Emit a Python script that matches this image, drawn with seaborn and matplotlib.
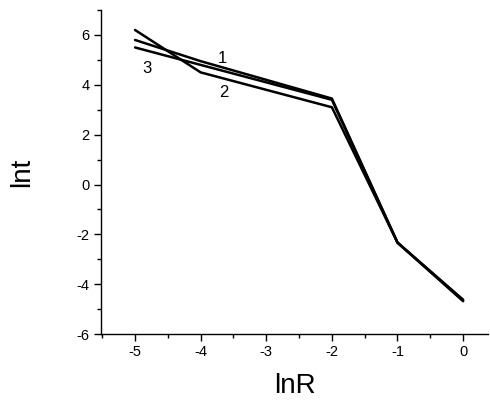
import numpy as np
import pandas as pd
import matplotlib
matplotlib.use("Agg")
import matplotlib.pyplot as plt
import seaborn as sns
from matplotlib.ticker import MultipleLocator

lnR = [-5, -4, -3, -2, -1, 0]
curve1 = [5.8, 4.95, 4.2, 3.45, -2.33, -4.65]
curve2 = [6.2, 4.5, 3.8, 3.1, -2.33, -4.68]
curve3 = [5.5, 4.8, 4.1, 3.4, -2.33, -4.62]
curve_names = ["1", "2", "3"]
label_pos = {"1": (-3.67, 5.07), "2": (-3.64, 3.7), "3": (-4.82, 4.67)}

df = pd.DataFrame({
    "lnR": lnR * 3,
    "lnt": curve1 + curve2 + curve3,
    "curve": [n for n in curve_names for _ in lnR],
})

sns.set_theme(style="ticks")
plt.rcParams["font.family"] = ["Liberation Sans", "DejaVu Sans"]
plt.rcParams["axes.unicode_minus"] = False

fig = plt.figure(figsize=(4.9, 4.03), dpi=100)
ax = fig.add_axes([0.206, 0.171, 0.79, 0.804])
sns.lineplot(data=df, x="lnR", y="lnt", hue="curve", palette=["black"] * 3,
             legend=False, ax=ax, linewidth=1.8, sort=False)

for name, (x, y) in label_pos.items():
    ax.text(x, y, name, ha="center", va="center", fontsize=12, color="black")

ax.set_xlim(-5.52, 0.38)
ax.set_ylim(-6, 7)
ax.xaxis.set_major_locator(MultipleLocator(1))
ax.xaxis.set_minor_locator(MultipleLocator(0.5))
ax.yaxis.set_major_locator(MultipleLocator(2))
ax.yaxis.set_minor_locator(MultipleLocator(1))
ax.set_yticks([-6, -4, -2, 0, 2, 4, 6])
ax.tick_params(which="major", length=5, width=1, labelsize=10.5, colors="black", pad=3)
ax.tick_params(which="minor", length=3, width=1, colors="black")
for s in ["top", "right"]:
    ax.spines[s].set_visible(False)
for s in ["left", "bottom"]:
    ax.spines[s].set_color("black")
    ax.spines[s].set_linewidth(1)

ax.set_xlabel("lnR", fontsize=20, labelpad=10, color="black")
ax.set_ylabel("lnt", fontsize=20, labelpad=30, color="black")

fig.savefig("out.png", dpi=100)
